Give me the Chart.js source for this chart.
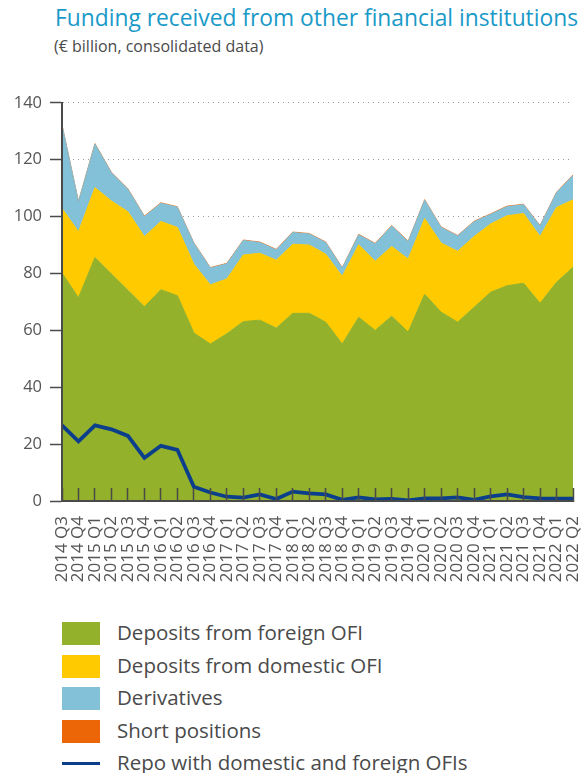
<!DOCTYPE html>
<html lang="en">
<head>
    <title>Funding received from other financial institutions</title>
    <meta charset="utf-8" />
    <script src="https://cdn.jsdelivr.net/npm/chart.js@4.4.0/dist/chart.umd.min.js"></script>
    <style>
        body { margin: 0; background: #fff; font-family: 'Open Sans', sans-serif; }
        #page { position: relative; width: 585px; height: 773px; overflow: hidden; }
        #title { position: absolute; left: 55px; top: 7px; font-size: 22.8px; line-height: 1; color: #1a9ac8; white-space: nowrap; }
        #subtitle { position: absolute; left: 54px; top: 38px; font-size: 16px; line-height: 1; color: #4a4a4a; white-space: nowrap; }
        #chartBox { position: absolute; left: 0; top: 85px; width: 585px; height: 520px; }
        #legend { position: absolute; left: 62px; top: 617px; }
        .legendRow { position: relative; height: 32.5px; }
        .legendBox { position: absolute; left: 0; top: 5px; width: 38px; height: 23px; }
        .legendLine { position: absolute; left: 0; top: 15px; width: 38px; height: 3px; }
        .legendText { position: absolute; left: 55px; top: 3px; font-size: 20.5px; line-height: 24px; color: #4a4a4a; white-space: nowrap; }
    </style>
</head>
<body>
<div id="page">
    <div id="title">Funding received from other financial institutions</div>
    <div id="subtitle">(€ billion, consolidated data)</div>
    <div id="chartBox"><canvas id="chartCanvas"></canvas></div>
    <div id="legend"></div>
</div>
<script>
    // quarters, 2014 Q3 .. 2022 Q2
    const quarters = [
        '2014 Q3', '2014 Q4',
        '2015 Q1', '2015 Q2', '2015 Q3', '2015 Q4',
        '2016 Q1', '2016 Q2', '2016 Q3', '2016 Q4',
        '2017 Q1', '2017 Q2', '2017 Q3', '2017 Q4',
        '2018 Q1', '2018 Q2', '2018 Q3', '2018 Q4',
        '2019 Q1', '2019 Q2', '2019 Q3', '2019 Q4',
        '2020 Q1', '2020 Q2', '2020 Q3', '2020 Q4',
        '2021 Q1', '2021 Q2', '2021 Q3', '2021 Q4',
        '2022 Q1', '2022 Q2'
    ];

    // € billion
    const depositsForeign = [
        80.2, 71.5, 85.6, 79.8, 74.1, 68.3, 74.3, 72.2, 59.1, 55.2,
        58.8, 63.1, 63.6, 60.8, 66.0, 66.0, 62.9, 55.2, 64.6, 60.0,
        65.0, 59.4, 72.7, 66.4, 62.9, 68.1, 73.4, 75.7, 76.6, 69.5,
        76.9, 82.2
    ];
    const depositsDomestic = [
        22.7, 23.2, 24.6, 25.7, 27.6, 24.7, 24.0, 24.0, 24.2, 20.8,
        19.3, 23.4, 23.5, 23.9, 24.3, 24.0, 23.9, 23.8, 25.5, 24.3,
        24.5, 25.7, 26.6, 24.3, 24.9, 24.9, 24.0, 24.6, 24.5, 23.5,
        26.3, 23.7
    ];
    const derivatives = [
        29.2, 10.5, 15.3, 9.9, 7.9, 7.0, 6.4, 7.1, 7.3, 5.9,
        5.3, 5.1, 3.8, 3.6, 4.1, 3.9, 4.1, 2.9, 3.5, 6.1,
        7.2, 6.1, 6.5, 5.5, 5.4, 5.2, 3.4, 3.2, 3.1, 3.7,
        5.2, 8.6
    ];
    const shortPositions = [
        0.2, 0.2, 0.2, 0.2, 0.2, 0.2, 0.2, 0.2, 0.2, 0.2,
        0.2, 0.2, 0.2, 0.2, 0.2, 0.2, 0.2, 0.2, 0.2, 0.2,
        0.2, 0.2, 0.2, 0.2, 0.2, 0.2, 0.2, 0.2, 0.2, 0.2,
        0.2, 0.2
    ];
    const repo = [
        26.6, 21.0, 26.6, 25.2, 22.9, 15.2, 19.4, 18.0, 5.0, 3.0,
        1.5, 1.2, 2.3, 0.7, 3.3, 2.7, 2.3, 0.4, 1.3, 0.6,
        0.7, 0.2, 0.9, 0.9, 1.3, 0.4, 1.6, 2.3, 1.4, 0.9,
        0.8, 0.8
    ];

    const yTicks = [0, 20, 40, 60, 80, 100, 120, 140];

    const series = [
        { label: 'Deposits from foreign OFI', data: depositsForeign, color: '#93b12a', kind: 'area' },
        { label: 'Deposits from domestic OFI', data: depositsDomestic, color: '#ffcb00', kind: 'area' },
        { label: 'Derivatives', data: derivatives, color: '#82c1d8', kind: 'area' },
        { label: 'Short positions', data: shortPositions, color: '#ec6608', kind: 'area' },
        { label: 'Repo with domestic and foreign OFIs', data: repo, color: '#0b3f8c', kind: 'line' }
    ];

    function buildDatasets() {
        const out = [];
        series.forEach(function (s, i) {
            if (s.kind === 'area') {
                out.push({
                    label: s.label,
                    data: s.data,
                    stack: 'funding',
                    fill: i === 0 ? 'origin' : '-1',
                    backgroundColor: s.color,
                    borderColor: s.color,
                    borderWidth: i === 3 ? 0.7 : 1,
                    pointRadius: 0,
                    tension: 0
                });
            } else {
                out.push({
                    label: s.label,
                    data: s.data,
                    stack: 'repo',
                    order: -1,
                    fill: false,
                    borderColor: s.color,
                    borderWidth: 3.8,
                    pointRadius: 0,
                    tension: 0
                });
            }
        });
        return out;
    }

    function buildLegend() {
        const legendDiv = document.getElementById('legend');
        series.forEach(function (s) {
            const row = document.createElement('div');
            row.className = 'legendRow';
            const mark = document.createElement('div');
            mark.className = s.kind === 'area' ? 'legendBox' : 'legendLine';
            mark.style.background = s.color;
            row.appendChild(mark);
            const txt = document.createElement('div');
            txt.className = 'legendText';
            txt.textContent = s.label;
            row.appendChild(txt);
            legendDiv.appendChild(row);
        });
    }

    Chart.defaults.font.family = "'Open Sans', sans-serif";
    Chart.defaults.color = '#555';

    const chartConfig = {
        type: 'line',
        data: {
            labels: quarters,
            datasets: buildDatasets()
        },
        options: {
            responsive: true,
            maintainAspectRatio: false,
            animation: false,
            layout: { padding: { top: 17, right: 12, left: 0, bottom: 0 } },
            plugins: {
                legend: { display: false },
                tooltip: { enabled: false },
                filler: { drawTime: 'beforeDatasetsDraw' }
            },
            scales: {
                x: {
                    grid: {
                        z: 1,
                        drawOnChartArea: false,
                        tickLength: -13,
                        tickColor: '#4a4a4a',
                        tickWidth: 1.5
                    },
                    border: { z: 1, color: '#4a4a4a', width: 2 },
                    ticks: {
                        autoSkip: false,
                        maxRotation: 90,
                        minRotation: 90,
                        padding: 28,
                        font: { size: 17 },
                        color: '#555'
                    },
                    afterFit: function (scale) {
                        scale.height = 104;
                        scale.paddingLeft = 0;
                        scale.paddingRight = 0;
                    }
                },
                y: {
                    stacked: true,
                    min: 0,
                    max: 140,
                    afterBuildTicks: function (scale) {
                        scale.ticks = yTicks.map(function (v) { return { value: v }; });
                    },
                    grid: {
                        color: '#9a9a9a',
                        lineWidth: 1,
                        tickLength: 12,
                        tickColor: '#4a4a4a',
                        tickWidth: 1.5,
                        tickBorderDash: []
                    },
                    border: { z: 1, color: '#4a4a4a', width: 2, dash: [1, 4] },
                    ticks: {
                        padding: 8,
                        font: { size: 16.5 },
                        color: '#555'
                    },
                    afterFit: function (scale) { scale.width = 62; }
                }
            }
        }
    };

    buildLegend();
    const plotChart = new Chart(document.getElementById('chartCanvas').getContext('2d'), chartConfig);
</script>
</body>
</html>
